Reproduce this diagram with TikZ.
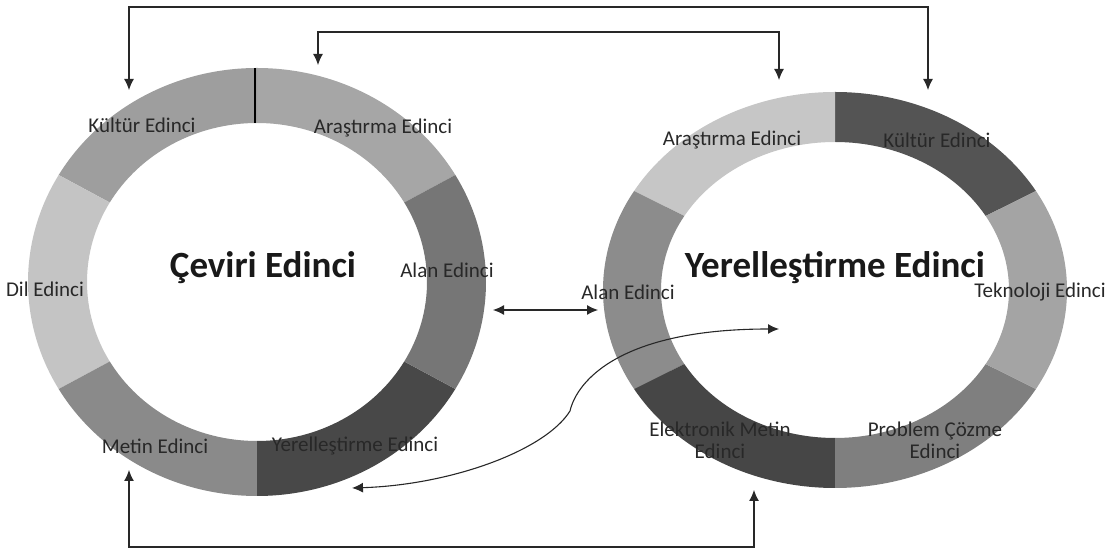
\documentclass[tikz,border=0pt]{standalone}
\usepackage{fontspec}
\setmainfont{Carlito}
\usetikzlibrary{arrows.meta, calc}
\definecolor{txtG}{RGB}{40,40,40}
\definecolor{lnG}{RGB}{40,40,40}
% shades of the left ring
\definecolor{lAra}{RGB}{166,166,166}
\definecolor{lKul}{RGB}{158,158,158}
\definecolor{lDil}{RGB}{196,196,196}
\definecolor{lMet}{RGB}{138,138,138}
\definecolor{lYer}{RGB}{72,72,72}
\definecolor{lAla}{RGB}{118,118,118}
% shades of the right ring
\definecolor{rKul}{RGB}{84,84,84}
\definecolor{rAra}{RGB}{198,198,198}
\definecolor{rAla}{RGB}{140,140,140}
\definecolor{rElk}{RGB}{70,70,70}
\definecolor{rPrb}{RGB}{127,127,127}
\definecolor{rTek}{RGB}{164,164,164}
\tikzset{
  lbl/.style={font=\fontsize{21}{22}\selectfont, text=txtG, inner sep=0pt, align=center},
  ttl/.style={font=\fontsize{37}{40}\selectfont\bfseries, text=black!90, inner sep=0pt},
  link/.style={lnG, line width=1.1pt, {Latex[length=11pt, width=10pt]}-{Latex[length=11pt, width=10pt]}}
}

\begin{document}
\begin{tikzpicture}[x=1pt, y=1pt]
\useasboundingbox (0,0) rectangle (1111,551);
% ===== left ring: Ceviri Edinci =====
\coordinate (lc) at (257,269);
\foreach \a/\col in {30/lAra, 90/lKul, 150/lDil, 210/lMet, 270/lYer, 330/lAla}
  \fill[\col] ($(lc)+(\a:229 and 214)$) arc[start angle=\a, delta angle=60, x radius=229, y radius=214]
    -- ($(lc)+({\a+60}:170 and 159)$) arc[start angle=\a+60, delta angle=-60, x radius=170, y radius=159] -- cycle;
\draw[black, line width=1.6pt] (255,483) -- (255,428);
% ===== right ring: Yerellestirme Edinci =====
\coordinate (rc) at (835,261);
\foreach \a/\col in {30/rKul, 90/rAra, 150/rAla, 210/rElk, 270/rPrb, 330/rTek}
  \fill[\col] ($(rc)+(\a:232 and 198)$) arc[start angle=\a, delta angle=60, x radius=232, y radius=198]
    -- ($(rc)+({\a+60}:174 and 148)$) arc[start angle=\a+60, delta angle=-60, x radius=174, y radius=148] -- cycle;
% ===== labels =====
\node[ttl] (ceviri) at (263,283) {Çeviri Edinci};
\node[lbl] (lKulturL) at (142,426) {Kültür Edinci};
\node[lbl] (lArastirmaL) at (383,423) {Araştırma Edinci};
\node[lbl] (lAlanL) at (447,281) {Alan Edinci};
\node[lbl] (lDilL) at (45,262) {Dil Edinci};
\node[lbl] (lMetinL) at (155,105) {Metin Edinci};
\node[lbl] (lYerelL) at (355,105) {Yerelleştirme Edinci};
\node[ttl] (yerel) at (835,283) {Yerelleştirme Edinci};
\node[lbl] (rArastirmaL) at (732,411) {Araştırma Edinci};
\node[lbl] (rKulturL) at (937,411) {Kültür Edinci};
\node[lbl] (rTeknoL) at (1040,259) {Teknoloji Edinci};
\node[lbl] (rAlanL) at (628,259) {Alan Edinci};
\node[lbl] (rElektL) at (720,111) {Elektronik Metin\\Edinci};
\node[lbl] (rProbL) at (935,111) {Problem Çözme\\Edinci};
% ===== arrow ends on the rings =====
\coordinate (kulA) at (129,461);
\coordinate (kulB) at (928,461);
\coordinate (araA) at (318,486);
\coordinate (araB) at (779,471);
\coordinate (alaA) at (493,241);
\coordinate (alaB) at (598,241);
\coordinate (metA) at (129,81);
\coordinate (metB) at (754,61);
\coordinate (yerA) at (352,63);
\coordinate (yerB) at (779,222);
\coordinate (railTop) at (0,544);
\coordinate (railMid) at (0,519);
\coordinate (railBot) at (0,4);
% ===== connectors =====
\draw[link] (kulA) -- (kulA |- railTop) -- (kulB |- railTop) -- (kulB);
\draw[link] (araA) -- (araA |- railMid) -- (araB |- railMid) -- (araB);
\draw[link] (alaA) -- (alaB);
\draw[link] (metA) -- (metA |- railBot) -- (metB |- railBot) -- (metB);
\draw[link] (yerA) .. controls (450,66) and (545,100) .. (570,140) .. controls (577,170) and (620,222) .. (yerB);
\end{tikzpicture}
\end{document}
